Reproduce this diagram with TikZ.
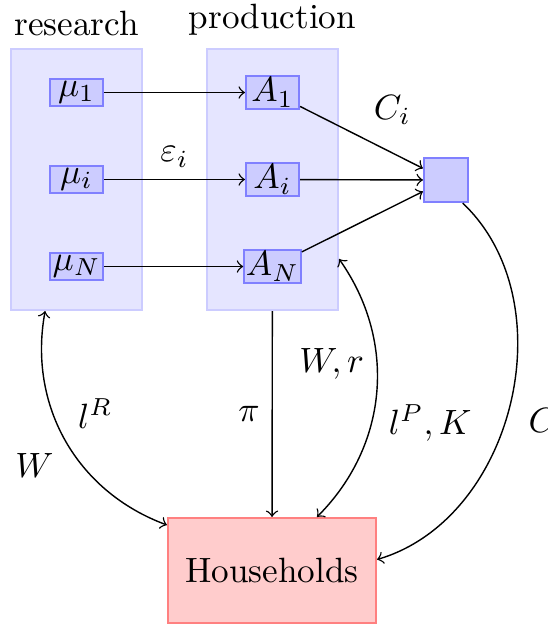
\documentclass[tikz,border=0pt]{standalone}
\usetikzlibrary{positioning}

\begin{document}
\begin{tikzpicture}[
  groupbox/.style={rectangle, fill=blue!10, draw=blue!20, semithick, inner sep=0pt,
    minimum width=1.31cm, minimum height=2.61cm},
  varbox/.style={rectangle, fill=blue!20, draw=blue!50, semithick, inner sep=0.5pt,
    minimum width=0.53cm, minimum height=0.27cm},
  aggbox/.style={rectangle, fill=blue!20, draw=blue!50, semithick, minimum size=0.44cm},
  hhbox/.style={rectangle, fill=red!20, draw=red!50, semithick,
    minimum width=2.08cm, minimum height=1.05cm},
  flow/.style={->, thin},
  twoway/.style={<->, thin}
]
  \useasboundingbox (0,0) rectangle (5.47,-6.25);

  %% --- blocchi: ricerca e produzione ---
  \node[groupbox, label={[name=researchLab]above:research}] (research) at (0.765,-1.795) {};
  \node[groupbox, label={[name=prodLab]above:production}] (prod) at (2.725,-1.795) {};

  %% --- varieta': una riga per indice ---
  \foreach \idx/\yy in {1/-0.925, i/-1.795, N/-2.665} {
    \node[varbox] (mu\idx) at (0.765,\yy) {$\mu_\idx$};
    \node[varbox] (A\idx) at (2.725,\yy) {$A_\idx$};
  }
  \node[aggbox] (agg) at (4.46,-1.80) {};
  \node[hhbox] (hh) at (2.72,-5.705) {Households};

  %% --- flussi ricerca -> produzione -> aggregato ---
  \draw[flow] (mu1) -- (A1);
  \draw[flow] (mui) -- node[midway, above] (epsLab) {$\varepsilon_i$} (Ai);
  \draw[flow] (muN) -- (AN);
  \draw[flow] (A1) -- node[midway, above right] (CiLab) {$C_i$} (agg);
  \draw[flow] (Ai) -- (agg);
  \draw[flow] (AN) -- (agg);

  %% --- flussi con le famiglie ---
  \draw[twoway] (research) to[bend right=40]
    node[midway, above right] (lRLab) {$l^R$}
    node[midway, below left] (WLab) {$W$} (hh);
  \draw[flow] (prod) -- node[midway, left] (piLab) {$\pi$} (hh);
  \draw[twoway] (prod) to[bend left=40]
    node[midway, above left] (WrLab) {$W,r$}
    node[midway, below right] (lPLab) {$l^P,K$} (hh);
  \draw[flow] (agg) to[bend left=60]
    node[pos=0.54, right=3pt] (CLab) {$C$} (hh);
\end{tikzpicture}
\end{document}
